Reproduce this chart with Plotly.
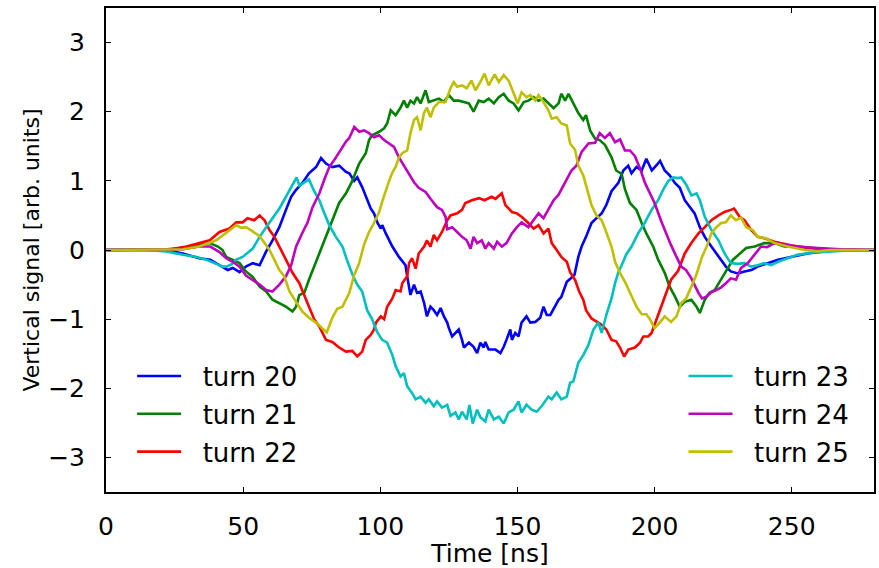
import plotly.graph_objects as go

# Vertical intra-bunch signal for successive turns (time in ns, signal in arb. units)
t20 = [0, 15, 22, 28, 34, 38, 41.4, 44.4, 46.2, 48.7, 51, 53.5, 56, 58.4, 60.7, 63.2, 65.6, 67.5, 69.3, 71.6,
       74, 76.6, 78.4, 80.2, 82.5, 85, 87.5, 88.7, 90.5, 91.6, 93.4, 95.2, 96.5, 97.7, 99, 100.2, 100.7, 102,
       104.4, 106.8, 109.2, 109.8, 110.5, 111, 112.3, 113.4, 114.7, 116, 117, 118.3, 119.5, 120.7, 122, 123.2,
       124.4, 125, 126.2, 127.4, 128.6, 129.8, 130.5, 132.3, 134, 135.3, 136.5, 137.7, 138.3, 139.5, 142,
       143.8, 145, 146, 147.4, 148, 149.2, 150.4, 151.5, 153.3, 154.7, 156.5, 158.3, 159.5, 160.7, 162, 163.8,
       165, 166, 167, 168, 169.7, 170.8, 172.2, 173.4, 175, 177, 178.8, 180.7, 182.4, 184.3, 186.8, 188.6,
       190.4, 191.6, 193.4, 195.3, 197, 199, 200.8, 202, 203.7, 205.5, 207.4, 209.2, 211, 212.8, 214.6, 216.5,
       218.3, 220.7, 222.5, 224.3, 226, 227.8, 230.4, 232.8, 235.3, 237.6, 241, 245, 249.7, 255.8, 262, 268, 280]
v20 = [0, 0, 0, -0.05, -0.12, -0.14, -0.22, -0.29, -0.26, -0.32, -0.24, -0.19, -0.22, -0.02, 0.14, 0.33, 0.58,
       0.77, 0.87, 0.97, 1.11, 1.2, 1.33, 1.25, 1.2, 1.22, 1.13, 1.11, 1.0, 1.05, 0.91, 0.72, 0.6, 0.53, 0.39,
       0.31, 0.36, 0.24, 0.05, -0.1, -0.22, -0.38, -0.58, -0.65, -0.5, -0.62, -0.6, -0.77, -0.96, -0.82, -0.87,
       -0.94, -0.84, -0.96, -1.05, -1.13, -1.25, -1.2, -1.15, -1.3, -1.41, -1.34, -1.4, -1.49, -1.34, -1.41,
       -1.33, -1.44, -1.44, -1.49, -1.4, -1.3, -1.15, -1.3, -1.2, -1.25, -1.05, -0.96, -1.05, -1.04, -0.98,
       -0.82, -0.94, -0.94, -0.82, -0.72, -0.68, -0.58, -0.46, -0.4, -0.36, -0.1, 0.05, 0.19, 0.39, 0.46, 0.53,
       0.65, 0.85, 0.97, 1.15, 1.22, 1.11, 1.2, 1.15, 1.32, 1.15, 1.23, 1.29, 1.15, 1.08, 0.97, 0.9, 0.72, 0.62,
       0.53, 0.33, 0.19, 0.05, -0.05, -0.14, -0.24, -0.31, -0.34, -0.31, -0.29, -0.24, -0.19, -0.14, -0.1,
       -0.05, -0.02, 0, 0]

t21 = [0, 15, 22, 28, 34, 37.8, 40.8, 42.5, 43.8, 46.2, 48.7, 51, 53.5, 56, 58.4, 60.7, 63.2, 65.6, 68, 69.3,
       70.5, 72.3, 74, 75.9, 77.8, 80.2, 82.5, 85, 87.5, 89.8, 91, 92.3, 94.7, 95.9, 97, 99.6, 101.4, 102.5,
       103.8, 105.6, 107.4, 108.6, 109.8, 111, 112.3, 113.4, 114.7, 116.5, 117.7, 119.5, 121.4, 123.2, 125,
       126.8, 128.6, 130.5, 132.3, 134, 135.9, 137.7, 139.5, 141.4, 143.2, 145, 146.8, 148.6, 150.4, 152.3, 154,
       155.9, 157.7, 159.5, 161.3, 163.2, 165, 166, 167.4, 168.6, 170.4, 172.2, 174, 175, 176.5, 178.3, 180,
       181.9, 184.3, 186, 188, 189.2, 191, 193.4, 195.3, 197, 199.5, 201.3, 203.7, 205.5, 207.4, 209.2, 211,
       213.4, 215.3, 216.5, 218.3, 220, 221.9, 224.3, 226, 228.6, 231, 233.4, 236.5, 240, 243.7, 247.3, 252,
       259.5, 268, 280]
v21 = [0, 0, 0.01, 0.03, 0.07, 0.1, 0.05, 0, -0.1, -0.14, -0.19, -0.31, -0.39, -0.53, -0.6, -0.72, -0.77,
       -0.82, -0.89, -0.82, -0.65, -0.62, -0.43, -0.24, -0.05, 0.19, 0.43, 0.68, 0.82, 1.0, 1.12, 1.25, 1.4,
       1.59, 1.66, 1.71, 1.76, 1.83, 2.02, 1.95, 2.06, 2.16, 2.06, 2.16, 2.12, 2.21, 2.12, 2.31, 2.14, 2.16,
       2.19, 2.14, 2.24, 2.16, 2.16, 2.14, 2.12, 2.0, 2.16, 2.14, 2.19, 2.12, 2.21, 2.26, 2.16, 2.12, 2.02,
       2.14, 2.16, 2.21, 2.16, 2.19, 2.12, 2.05, 2.12, 2.26, 2.16, 2.26, 2.12, 1.98, 1.88, 1.95, 1.73, 1.61,
       1.59, 1.52, 1.34, 1.15, 1.1, 0.88, 0.68, 0.58, 0.39, 0.24, 0.05, -0.14, -0.33, -0.53, -0.67, -0.82,
       -0.75, -0.72, -0.82, -0.91, -0.72, -0.62, -0.58, -0.43, -0.31, -0.14, -0.05, 0.03, 0.05, 0.1, 0.1, 0.05,
       0.05, 0.02, 0, 0]

t22 = [0, 15, 22, 29.3, 34, 37.8, 41.4, 45, 47.5, 49.8, 51.6, 54, 56, 57.8, 59.6, 61.4, 63.2, 65.6, 68, 70.5,
       72.3, 74, 75.9, 77.8, 80.2, 82.5, 85, 87.5, 89.8, 91.6, 93.4, 94.7, 96.5, 97.7, 98.4, 100.2, 101.4,
       102.5, 104.4, 105.6, 107.4, 108, 109.8, 110.5, 111.6, 112.9, 114, 116, 117, 118.3, 119.5, 120.7, 122.5,
       124.4, 125.6, 128, 129.8, 131, 133.4, 136, 138, 140.6, 142, 144.3, 145.6, 148, 149.8, 151.5, 154, 155.9,
       157.7, 159.5, 161.3, 162.5, 164.3, 166, 168, 169.2, 171, 172.5, 174, 175, 177, 178.8, 180.7, 182.4,
       184.3, 186, 187.4, 188.9, 190.4, 192.8, 194.7, 195.9, 197.7, 198.9, 200.8, 202.4, 204.3, 206, 208.6,
       211, 213.4, 216, 218.3, 220.7, 223.3, 225.5, 227.8, 229, 231, 232.8, 235.2, 237.6, 240, 243.7, 249.7,
       255.8, 264, 280]
v22 = [0, 0, 0, 0.05, 0.1, 0.14, 0.26, 0.31, 0.4, 0.4, 0.46, 0.43, 0.5, 0.43, 0.29, 0.19, 0.05, -0.14, -0.33,
       -0.48, -0.67, -0.82, -1.0, -1.11, -1.3, -1.33, -1.41, -1.47, -1.46, -1.54, -1.47, -1.3, -1.23, -1.15,
       -1.05, -0.96, -1.0, -0.82, -0.7, -0.58, -0.6, -0.48, -0.38, -0.19, -0.12, -0.27, -0.05, 0.05, 0.14,
       0.05, 0.22, 0.14, 0.26, 0.43, 0.5, 0.53, 0.58, 0.68, 0.72, 0.75, 0.72, 0.77, 0.74, 0.82, 0.65, 0.55,
       0.53, 0.48, 0.39, 0.31, 0.36, 0.24, 0.31, 0.1, 0, -0.1, -0.17, -0.32, -0.43, -0.6, -0.72, -0.87, -0.99,
       -1.04, -1.08, -1.15, -1.3, -1.32, -1.41, -1.54, -1.44, -1.41, -1.34, -1.25, -1.25, -1.2, -1.0, -0.82,
       -0.62, -0.43, -0.3, -0.05, 0.1, 0.24, 0.33, 0.43, 0.5, 0.55, 0.58, 0.6, 0.48, 0.43, 0.29, 0.19, 0.17,
       0.12, 0.07, 0.03, 0, 0]

t23 = [0, 15, 22, 28, 33, 36.6, 40.2, 42.5, 44, 46, 47.5, 49.8, 53.5, 56, 58.4, 60.7, 63.2, 65.6, 68, 69.5,
       70.5, 72.3, 74, 75.9, 77.8, 79.6, 81.4, 83.8, 86.2, 87.9, 89.8, 91.6, 93.4, 95.2, 97, 98.8, 100.7,
       102.5, 104.4, 105.6, 107.4, 108.6, 109.8, 111.6, 112.9, 114.7, 116.5, 117.7, 119.5, 120.7, 122.5, 124.4,
       125.6, 127.4, 128.6, 129.8, 131.5, 132.5, 133.7, 135.3, 136.5, 138.3, 139.5, 141.4, 143.2, 145, 146.8,
       148.6, 150.4, 151.5, 153.3, 155.2, 157, 158.8, 161.3, 162.5, 164.3, 166, 168, 169.2, 170.4, 172.2, 174,
       175.9, 177.7, 179.5, 180.7, 182.4, 184.3, 185.6, 186.8, 188, 189.7, 191.6, 194, 196.5, 198.9, 201.3,
       203.1, 205, 206.8, 208.6, 209.7, 211.6, 213.4, 215.3, 216.5, 218.3, 220.7, 223.3, 225.5, 227.8, 230.4,
       232.8, 235.2, 237.6, 240, 242.5, 245, 248.5, 252, 257, 262, 269, 280]
v23 = [0, 0, -0.02, -0.07, -0.1, -0.14, -0.2, -0.24, -0.24, -0.2, -0.14, -0.1, 0.02, 0.19, 0.33, 0.46, 0.6,
       0.77, 0.95, 1.05, 0.93, 0.98, 1.02, 0.85, 0.72, 0.53, 0.36, 0.19, 0.05, -0.15, -0.35, -0.5, -0.6, -0.87,
       -1.0, -1.18, -1.3, -1.34, -1.52, -1.68, -1.83, -1.78, -1.97, -2.07, -2.16, -2.12, -2.21, -2.16, -2.26,
       -2.19, -2.28, -2.24, -2.4, -2.35, -2.45, -2.34, -2.45, -2.24, -2.51, -2.31, -2.42, -2.48, -2.31, -2.45,
       -2.41, -2.51, -2.35, -2.31, -2.19, -2.35, -2.24, -2.31, -2.34, -2.26, -2.12, -2.16, -2.06, -2.16, -2.12,
       -1.92, -1.9, -1.63, -1.52, -1.37, -1.15, -1.05, -1.2, -0.94, -0.7, -0.48, -0.32, -0.22, -0.06, 0.05,
       0.24, 0.4, 0.58, 0.72, 0.87, 1.0, 1.05, 1.04, 1.05, 0.94, 0.79, 0.82, 0.72, 0.48, 0.29, 0.14, -0.05,
       -0.19, -0.2, -0.19, -0.24, -0.22, -0.19, -0.22, -0.17, -0.12, -0.07, -0.04, -0.03, -0.01, 0]

t24 = [0, 15, 22, 28, 34, 38, 41.4, 43.8, 46.2, 48.7, 51, 53.5, 56, 58.4, 60.7, 63.2, 65.6, 67.5, 69.3, 71.6,
       73.4, 75.3, 77.8, 79.6, 81.4, 83.2, 85, 87.5, 88.7, 90.5, 92.3, 94.1, 95.9, 97.7, 99.6, 101.4, 103.2,
       105, 106.8, 108.6, 110.5, 112.3, 114, 116.5, 118.3, 120.7, 122.5, 123.8, 124.4, 126.2, 128, 129.8,
       131.5, 132.9, 134, 135.3, 137, 138.3, 139.5, 141.4, 142.6, 144.3, 146, 148, 149.8, 151.5, 154, 155.9,
       157.7, 159.5, 161.3, 163.2, 165, 167.4, 169.7, 171.5, 173.4, 175.9, 178.3, 180, 181.9, 183.7, 185.6,
       187.4, 189.2, 191, 192.8, 194.7, 196.5, 198.3, 200, 202.4, 204.3, 206, 208, 209.7, 211.5, 213.4, 216,
       217.3, 219, 220.7, 222.5, 224.3, 226, 227.8, 229.7, 231.5, 234, 236.5, 238.8, 241, 243.7, 247.3, 252,
       259.5, 268, 280]
v24 = [0, 0, 0, 0.01, 0.05, 0.05, -0.03, -0.12, -0.17, -0.24, -0.37, -0.43, -0.5, -0.58, -0.6, -0.5, -0.38,
       -0.22, 0.05, 0.25, 0.39, 0.62, 0.82, 1.02, 1.2, 1.3, 1.42, 1.57, 1.62, 1.78, 1.71, 1.73, 1.69, 1.63,
       1.66, 1.59, 1.54, 1.49, 1.34, 1.22, 1.11, 0.98, 0.9, 0.84, 0.74, 0.62, 0.58, 0.48, 0.3, 0.33, 0.26,
       0.19, 0.14, 0.02, 0.19, 0.1, 0.14, 0.02, 0.1, 0.02, 0.12, 0.05, 0.1, 0.24, 0.33, 0.4, 0.33, 0.43, 0.53,
       0.46, 0.58, 0.72, 0.8, 0.97, 1.15, 1.22, 1.42, 1.54, 1.55, 1.69, 1.62, 1.69, 1.56, 1.6, 1.44, 1.44,
       1.36, 1.18, 0.97, 0.82, 0.68, 0.42, 0.22, 0.07, -0.1, -0.24, -0.29, -0.41, -0.62, -0.7, -0.67, -0.61,
       -0.58, -0.54, -0.48, -0.41, -0.43, -0.26, -0.19, -0.06, 0.05, 0.04, 0.1, 0.08, 0.05, 0.03, 0.01, 0]

t25 = [0, 15, 22, 28, 34, 37.8, 40.2, 42.5, 45, 47.5, 49.3, 51, 53.5, 56, 57.5, 59.6, 61.5, 63.2, 65, 66.9,
       69.3, 71.6, 74, 76.6, 79, 80.5, 82.5, 84.3, 86.2, 88.7, 90.5, 92.3, 94.1, 95.9, 97.7, 99.6, 100.7, 102,
       103.2, 104.4, 105.6, 106.8, 108, 109.8, 111, 112.3, 113.4, 114.7, 115.9, 117, 118.3, 119.5, 121.4,
       123.8, 125.6, 126.8, 128, 129.8, 131.5, 133.2, 134.7, 136.5, 138, 139.5, 141.7, 143.2, 145, 146.8,
       148.6, 150.1, 151.5, 153.3, 154.7, 156.5, 157.7, 159.5, 161.3, 162.5, 164.3, 166, 168, 169.2, 171,
       172.2, 174, 175.9, 177, 178.8, 180.7, 182, 183, 184.3, 185.6, 187.4, 189.2, 191.6, 193.4, 195.3, 197,
       198.3, 200, 201.9, 203.7, 206, 208, 209.7, 211.5, 213.4, 215.3, 217.3, 219, 220.7, 222.5, 224.3, 226,
       227.8, 229.7, 231.5, 233.4, 235.8, 237.6, 240.5, 243.7, 248.5, 254.7, 259.5, 264, 280]
v25 = [0, 0, 0, 0.01, 0.05, 0.1, 0.14, 0.21, 0.29, 0.36, 0.32, 0.33, 0.27, 0.2, 0.12, 0, -0.15, -0.29, -0.38,
       -0.6, -0.75, -0.89, -0.98, -1.05, -1.14, -1.19, -0.98, -0.85, -0.82, -0.62, -0.36, -0.19, 0.08, 0.26,
       0.39, 0.55, 0.7, 0.87, 1.0, 1.12, 1.2, 1.34, 1.4, 1.44, 1.69, 1.88, 1.92, 1.73, 1.98, 2.06, 1.92, 2.06,
       2.14, 2.14, 2.34, 2.43, 2.36, 2.38, 2.34, 2.45, 2.31, 2.43, 2.55, 2.38, 2.54, 2.43, 2.53, 2.45, 2.28,
       2.12, 2.28, 2.21, 2.24, 2.16, 2.24, 2.14, 2.02, 1.9, 1.92, 1.83, 1.8, 1.54, 1.45, 1.22, 1.08, 0.82,
       0.65, 0.5, 0.43, 0.3, 0.2, 0.05, -0.17, -0.33, -0.46, -0.67, -0.82, -0.93, -0.93, -1.0, -1.13, -1.05,
       -0.96, -1.04, -0.96, -0.77, -0.7, -0.53, -0.35, -0.1, 0.05, 0.24, 0.33, 0.39, 0.4, 0.5, 0.43, 0.47,
       0.33, 0.29, 0.19, 0.17, 0.1, 0.05, 0, -0.02, 0, 0]

turns = ["turn 20", "turn 21", "turn 22", "turn 23", "turn 24", "turn 25"]
colors = ["#0000ff", "#008000", "#ff0000", "#00bfbf", "#bf00bf", "#bfbf00"]
series = [(t20, v20), (t21, v21), (t22, v22), (t23, v23), (t24, v24), (t25, v25)]

x_ticks = [0, 50, 100, 150, 200, 250]
y_ticks = [-3, -2, -1, 0, 1, 2, 3]

FONT = "DejaVu Sans"
GAP = "\u00a0\u00a0"  # extra room between legend handle and label

fig = go.Figure()
for i, ((t, v), name, col) in enumerate(zip(series, turns, colors)):
    fig.add_trace(go.Scatter(
        x=t, y=v, mode="lines", name=GAP + name,
        line=dict(color=col, width=2.6),
        legend="legend" if i < 3 else "legend2",
        legendgroup=name,
    ))

legend_common = dict(
    bgcolor="rgba(255,255,255,0)",
    borderwidth=0,
    font=dict(family=FONT, size=26, color="black"),
    itemwidth=44,
    tracegroupgap=1,
    xanchor="left",
    yanchor="top",
)

fig.update_layout(
    width=879, height=568,
    margin=dict(l=106, r=3, t=8, b=76),
    paper_bgcolor="white", plot_bgcolor="white",
    font=dict(family=FONT, size=25, color="black"),
    showlegend=True,
    legend=dict(x=0.034, y=0.288, **legend_common),
    legend2=dict(x=0.752, y=0.288, **legend_common),
    xaxis=dict(
        range=[0, 280], tickvals=x_ticks, ticks="inside", ticklen=5, tickcolor="black",
        showline=True, linecolor="black", linewidth=2, mirror="ticks",
        showgrid=False, zeroline=False, ticklabelstandoff=11,
        tickfont=dict(family=FONT, size=25),
        title=dict(text="Time [ns]", font=dict(family=FONT, size=25), standoff=4),
    ),
    yaxis=dict(
        range=[-3.5, 3.5], tickvals=y_ticks, ticks="inside", ticklen=5, tickcolor="black",
        showline=True, linecolor="black", linewidth=2, mirror="ticks",
        showgrid=False, zeroline=False, ticklabelstandoff=14,
        tickfont=dict(family=FONT, size=25),
        title=dict(text="Vertical signal [arb. units]", font=dict(family=FONT, size=22), standoff=2),
    ),
)

fig.write_html("out.html")
